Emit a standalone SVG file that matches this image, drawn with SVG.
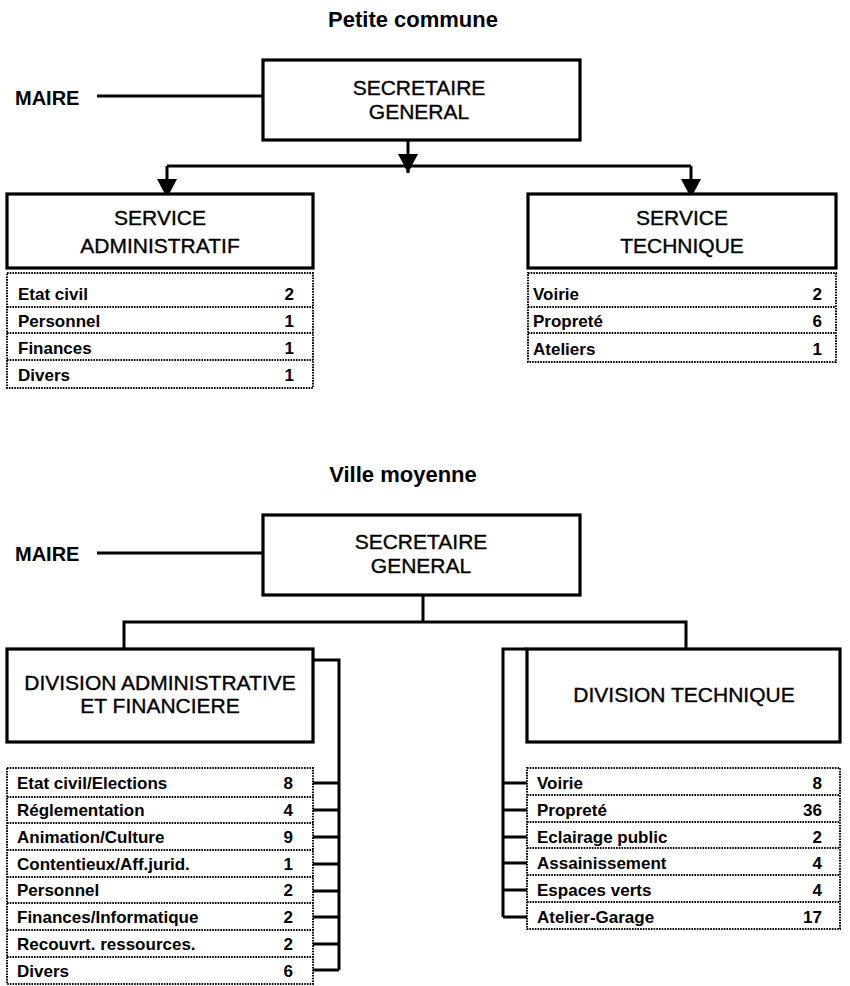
<svg xmlns="http://www.w3.org/2000/svg" width="850" height="986" viewBox="0 0 850 986">
  <defs>
    <style>
      .box { fill: #fff; stroke: #000; stroke-width: 3.2; }
      .list { fill: #fff; stroke: #000; stroke-width: 2; stroke-dasharray: 1.6 1.1; }
      .sep { fill: none; stroke: #000; stroke-width: 2; stroke-dasharray: 1.6 1.1; }
      .wire { fill: none; stroke: #000; stroke-width: 3; }
      text { font-family: "Liberation Sans", Arial, sans-serif; fill: #000; }
      .title { font-size: 22px; font-weight: bold; text-anchor: middle; }
      .maire { font-size: 20px; font-weight: bold; }
      .head { font-size: 21px; text-anchor: middle; stroke: #000; stroke-width: 0.35; }
      .item { font-size: 17px; font-weight: bold; }
      .num { font-size: 17px; font-weight: bold; text-anchor: end; }
    </style>
    <marker id="arrow" viewBox="0 0 19 20" refX="19" refY="10" markerWidth="19" markerHeight="20" markerUnits="userSpaceOnUse" orient="auto">
      <path d="M0,0 L19,10 L0,20 z" fill="#000"/>
    </marker>
  </defs>

  <rect x="0" y="0" width="850" height="986" fill="#fff"/>

  <!-- ===== Petite commune ===== -->
  <text class="title" x="413" y="27">Petite commune</text>

  <g id="connectors-top">
    <line class="wire" x1="97" y1="96" x2="263" y2="96"/>
    <line class="wire" x1="408" y1="140" x2="408" y2="173" marker-end="url(#arrow)"/>
    <line class="wire" x1="167" y1="166" x2="691" y2="166"/>
    <line class="wire" x1="167" y1="166" x2="167" y2="198" marker-end="url(#arrow)"/>
    <line class="wire" x1="691" y1="166" x2="691" y2="198" marker-end="url(#arrow)"/>
  </g>

  <g id="maire-top">
    <text class="maire" x="15" y="105">MAIRE</text>
  </g>

  <g id="sg-top">
    <rect class="box" x="263" y="60" width="317" height="80"/>
    <text class="head" x="419" y="95">SECRETAIRE</text>
    <text class="head" x="419" y="119">GENERAL</text>
  </g>

  <g id="service-admin">
    <rect class="box" x="7" y="194" width="306" height="74"/>
    <text class="head" x="160" y="225">SERVICE</text>
    <text class="head" x="160" y="253">ADMINISTRATIF</text>
    <rect class="list" x="7" y="273" width="306" height="115"/>
    <path class="sep" d="M7,307 H313 M7,333 H313 M7,360 H313"/>
    <text class="item" x="18" y="300">Etat civil</text><text class="num" x="294" y="300">2</text>
    <text class="item" x="18" y="327">Personnel</text><text class="num" x="294" y="327">1</text>
    <text class="item" x="18" y="354">Finances</text><text class="num" x="294" y="354">1</text>
    <text class="item" x="18" y="381">Divers</text><text class="num" x="294" y="381">1</text>
  </g>

  <g id="service-tech">
    <rect class="box" x="528" y="194" width="308" height="74"/>
    <text class="head" x="682" y="225">SERVICE</text>
    <text class="head" x="682" y="253">TECHNIQUE</text>
    <rect class="list" x="528" y="273" width="308" height="89"/>
    <path class="sep" d="M528,307 H836 M528,333 H836"/>
    <text class="item" x="533" y="300">Voirie</text><text class="num" x="822" y="300">2</text>
    <text class="item" x="533" y="327">Propreté</text><text class="num" x="822" y="327">6</text>
    <text class="item" x="533" y="355">Ateliers</text><text class="num" x="822" y="355">1</text>
  </g>

  <!-- ===== Ville moyenne ===== -->
  <text class="title" x="403" y="482">Ville moyenne</text>

  <g id="connectors-bottom">
    <line class="wire" x1="97" y1="553" x2="263" y2="553"/>
    <line class="wire" x1="423" y1="595" x2="423" y2="622"/>
    <path class="wire" d="M124,649 V622 H686 V649"/>
    <!-- bracket of the administrative division -->
    <path class="wire" d="M313,660 H339 V970"/>
    <path class="wire" d="M313,783 H339 M313,810 H339 M313,837 H339 M313,864 H339 M313,891 H339 M313,917 H339 M313,944 H339 M313,970 H339"/>
    <!-- bracket of the technical division -->
    <path class="wire" d="M527,649 H503 V917"/>
    <path class="wire" d="M503,783 H527 M503,810 H527 M503,837 H527 M503,863 H527 M503,890 H527 M503,917 H527"/>
  </g>

  <g id="maire-bottom">
    <text class="maire" x="15" y="561">MAIRE</text>
  </g>

  <g id="sg-bottom">
    <rect class="box" x="263" y="515" width="317" height="80"/>
    <text class="head" x="421" y="549">SECRETAIRE</text>
    <text class="head" x="421" y="573">GENERAL</text>
  </g>

  <g id="division-admin">
    <rect class="box" x="7" y="649" width="306" height="93"/>
    <text class="head" x="160" y="690">DIVISION ADMINISTRATIVE</text>
    <text class="head" x="160" y="713">ET FINANCIERE</text>
    <rect class="list" x="7" y="768" width="306" height="216"/>
    <path class="sep" d="M7,797 H313 M7,823 H313 M7,850 H313 M7,877 H313 M7,903 H313 M7,930 H313 M7,957 H313"/>
    <text class="item" x="17" y="789">Etat civil/Elections</text><text class="num" x="293" y="789">8</text>
    <text class="item" x="17" y="816">Réglementation</text><text class="num" x="293" y="816">4</text>
    <text class="item" x="17" y="843">Animation/Culture</text><text class="num" x="293" y="843">9</text>
    <text class="item" x="17" y="870">Contentieux/Aff.jurid.</text><text class="num" x="293" y="870">1</text>
    <text class="item" x="17" y="896">Personnel</text><text class="num" x="293" y="896">2</text>
    <text class="item" x="17" y="923">Finances/Informatique</text><text class="num" x="293" y="923">2</text>
    <text class="item" x="17" y="950">Recouvrt. ressources.</text><text class="num" x="293" y="950">2</text>
    <text class="item" x="17" y="977">Divers</text><text class="num" x="293" y="977">6</text>
  </g>

  <g id="division-tech">
    <rect class="box" x="527" y="649" width="313" height="93"/>
    <text class="head" x="684" y="702">DIVISION TECHNIQUE</text>
    <rect class="list" x="527" y="768" width="313" height="161"/>
    <path class="sep" d="M527,795 H840 M527,822 H840 M527,848 H840 M527,875 H840 M527,902 H840"/>
    <text class="item" x="537" y="789">Voirie</text><text class="num" x="822" y="789">8</text>
    <text class="item" x="537" y="816">Propreté</text><text class="num" x="822" y="816">36</text>
    <text class="item" x="537" y="843">Eclairage public</text><text class="num" x="822" y="843">2</text>
    <text class="item" x="537" y="869">Assainissement</text><text class="num" x="822" y="869">4</text>
    <text class="item" x="537" y="896">Espaces verts</text><text class="num" x="822" y="896">4</text>
    <text class="item" x="537" y="923">Atelier-Garage</text><text class="num" x="822" y="923">17</text>
  </g>
</svg>
